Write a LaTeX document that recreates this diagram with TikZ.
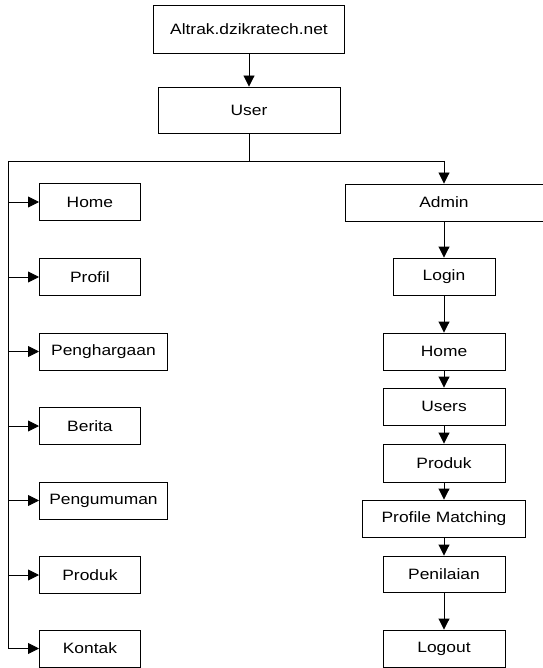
\documentclass[tikz,border=0pt]{standalone}
\usepackage{fontspec}
\setmainfont{Liberation Sans}[FakeStretch=1.16]
\usetikzlibrary{arrows.meta}
\begin{document}
\begin{tikzpicture}[x=1pt,y=-1pt,
  box/.style={draw=black, line width=0.9pt, inner sep=0pt, font=\fontsize{15}{18}\selectfont},
  lbox/.style={box, anchor=west, minimum height=37pt},
  rbox/.style={box, minimum height=37pt},
  conn/.style={line width=0.9pt, -{Triangle[length=11pt,width=11pt]}},
  ln/.style={line width=0.9pt}]
\useasboundingbox (0,0) rectangle (542,668);

% top
\node[box, minimum width=191pt, minimum height=48pt] (top) at (249,29) {Altrak.dzikratech.net};
\node[box, minimum width=182pt, minimum height=46pt] (user) at (249,110) {User};
\draw[conn] (top.south) -- (user.north);

\coordinate (hl) at (8,161);
\coordinate (hr) at (444,161);
\draw[ln] (user.south) -- (user.south |- hl);
\draw[ln] (hl) -- (hr);

% left column
\node[lbox, minimum width=101pt] (l1) at (39,202) {Home};
\node[lbox, minimum width=101pt] (l2) at (39,277) {Profil};
\node[lbox, minimum width=128pt] (l3) at (39,351.5) {Penghargaan};
\node[lbox, minimum width=101pt] (l4) at (39,426) {Berita};
\node[lbox, minimum width=128pt] (l5) at (39,500.5) {Pengumuman};
\node[lbox, minimum width=101pt] (l6) at (39,575) {Produk};
\node[lbox, minimum width=101pt] (l7) at (39,648.5) {Kontak};

\draw[ln] (hl) -- (hl |- l7.west);
\foreach \n in {l1,l2,l3,l4,l5,l6,l7}{
  \draw[conn] (hl |- \n.west) -- (\n.west);
}

% right column
\node[rbox, minimum width=198pt] (admin) at (444,202.5) {Admin};
\node[rbox, minimum width=102pt] (login) at (444,276.5) {Login};
\node[rbox, minimum width=122pt] (rhome) at (444,351.5) {Home};
\node[rbox, minimum width=122pt] (users) at (444,406.5) {Users};
\node[rbox, minimum width=122pt, minimum height=38pt] (rprod) at (444,463) {Produk};
\node[rbox, minimum width=163pt] (pm) at (444,518.5) {Profile Matching};
\node[rbox, minimum width=122pt, minimum height=36pt] (pen) at (444,574) {Penilaian};
\node[rbox, minimum width=122pt] (logout) at (444,648.5) {Logout};

\draw[conn] (hr) -- (admin.north);
\draw[conn] (admin) -- (login);
\draw[conn] (login) -- (rhome);
\draw[conn] (rhome) -- (users);
\draw[conn] (users) -- (rprod);
\draw[conn] (rprod) -- (pm);
\draw[conn] (pm) -- (pen);
\draw[conn] (pen) -- (logout);
\end{tikzpicture}
\end{document}
